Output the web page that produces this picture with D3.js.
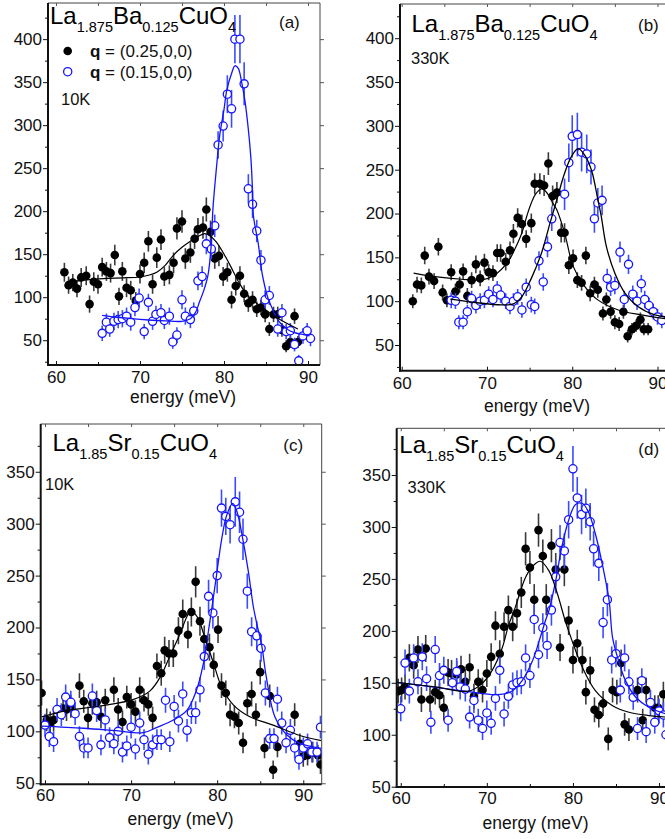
<!DOCTYPE html>
<html><head><meta charset="utf-8">
<script src="https://cdn.jsdelivr.net/npm/d3@7"></script>
<style>
body{margin:0;background:#fff}
svg{display:block}
text{font-family:"Liberation Sans",Arial,Helvetica,sans-serif}
</style>
</head><body>
<svg id="chart" width="665" height="839"></svg>
<script>
// ---------------- data (energy meV, intensity, error) ----------------
const xTicks = [60, 70, 80, 90];
const xMinor = [65, 75, 85];
const yTicksAB = [50, 100, 150, 200, 250, 300, 350, 400];
const yMinorAB = [25, 75, 125, 175, 225, 275, 325, 375, 425];
const yTicksCD = [50, 100, 150, 200, 250, 300, 350];
const yMinorCD = [75, 125, 175, 225, 275, 325, 375];
const legendLabels = ["(0.25,0,0)", "(0.15,0,0)"];

const aBlack = [[61.0,129,11],[61.5,114,10],[62.0,117,10],[62.5,110,10],[63.0,123,11],[63.6,125,11],[64.0,92,10],[64.5,118,11],[65.0,115,11],[65.5,135,11],[66.0,130,11],[66.5,128,11],[67.0,149,12],[67.5,101,10],[67.9,130,11],[68.4,111,11],[68.9,108,11],[69.5,96,10],[70.0,127,11],[70.5,140,12],[71.0,165,12],[71.5,115,11],[72.0,146,12],[72.5,167,12],[72.9,124,11],[73.5,126,11],[74.0,140,12],[74.4,180,13],[75.0,188,13],[75.4,145,12],[76.0,152,12],[76.5,168,12],[76.9,179,13],[77.5,181,13],[77.9,202,14],[78.4,176,13],[78.9,145,12],[79.4,148,12],[79.9,124,11],[80.4,129,11],[80.9,97,10],[81.4,113,11],[81.9,125,11],[82.4,104,10],[82.9,93,10],[83.4,97,10],[83.9,86,9],[84.4,88,9],[84.9,80,9],[85.4,63,8],[85.9,80,9],[86.4,80,9],[86.9,62,8],[87.4,43,7],[87.9,48,7],[88.4,78,9],[88.8,48,7]];
const aBlue = [[65.5,58,9],[66.0,71,10],[66.4,63,9],[66.9,72,10],[67.4,74,10],[67.9,75,10],[68.4,78,10],[68.9,71,10],[69.4,88,10],[69.9,99,11],[70.5,60,9],[71.0,94,10],[71.5,72,10],[71.9,80,10],[72.5,82,10],[72.9,73,10],[73.5,78,10],[73.9,48,8],[74.4,56,9],[75.0,97,11],[75.4,78,10],[76.0,74,10],[76.4,84,10],[76.9,119,11],[77.4,124,12],[77.9,162,12],[78.5,156,12],[78.9,183,13],[79.3,277,16],[79.9,299,18],[80.4,336,22],[80.9,319,22],[81.3,400,28],[81.9,400,28],[82.4,348,25],[82.9,226,17],[83.4,208,16],[83.9,177,13],[84.4,143,12],[84.9,97,11],[85.4,102,11],[86.4,63,9],[86.9,82,10],[87.4,60,9],[87.9,61,9],[88.4,45,8],[88.9,26,7],[89.4,55,9],[89.9,61,9],[90.3,52,9]];
const aBlackFit = [[62,118.5],[64,120.5],[66,122],[68,122.5],[70,123.5],[71,125.5],[72,129],[73,137],[74,149],[75,158],[76,165],[77,171],[77.7,174],[78.4,171],[79.1,164],[80.3,145],[81.1,130],[81.9,115],[82.9,101],[84.3,90],[86.3,76],[88.8,63]];
const aBlueFit = [[65.5,79],[67,77],[69,75],[71,73.5],[73,72.5],[75,72],[76,75],[76.6,82],[77.1,95],[77.6,108],[78.1,126],[78.45,157],[78.7,205],[79.1,250],[79.5,289],[80.0,318],[80.3,339],[80.9,360],[81.3,369],[81.7,366],[82.1,350],[82.5,328],[82.9,295],[83.2,262],[83.37,230],[83.5,195],[84.1,161],[84.5,130],[84.9,111],[85.3,97],[85.7,88],[86.2,77],[86.7,70],[87.5,63],[88.3,59],[89.2,57],[90.2,55]];

const bBlack = [[61.3,100,8],[61.8,119,9],[62.3,118,9],[62.7,152,10],[63.2,128,9],[63.8,123,9],[64.3,162,10],[64.8,110,9],[65.3,101,8],[65.8,133,9],[66.3,111,9],[66.8,119,9],[67.2,134,9],[67.7,106,9],[68.2,124,9],[68.7,142,10],[69.2,126,9],[69.7,144,10],[70.2,133,9],[70.7,132,9],[71.2,155,10],[71.6,155,10],[72.2,145,10],[72.7,158,10],[73.1,177,11],[73.6,195,11],[74.1,188,11],[74.6,171,10],[75.2,189,11],[75.6,234,12],[76.2,234,12],[76.7,232,12],[77.2,257,13],[77.7,220,12],[78.2,224,12],[78.7,178,11],[79.1,178,11],[79.6,141,10],[80.1,149,10],[80.6,124,9],[81.1,121,9],[81.6,152,10],[82.1,109,9],[82.6,119,9],[83.0,113,9],[83.6,86,8],[84.0,102,8],[84.5,88,8],[85.0,76,8],[85.5,74,8],[86.0,88,8],[86.5,60,7],[87.0,68,7],[87.5,72,7],[88.0,79,8],[88.4,68,7],[88.9,68,7]];
const bBlue = [[65.8,101,9],[66.3,100,9],[66.7,76,8],[67.2,76,8],[67.7,88,8],[68.2,103,9],[68.7,95,9],[69.2,100,9],[69.7,101,9],[70.2,108,9],[70.7,102,9],[71.2,114,9],[71.6,107,9],[72.2,100,9],[72.7,94,9],[73.1,100,9],[73.6,105,9],[74.1,90,9],[74.6,116,10],[75.2,96,9],[75.6,94,9],[76.1,146,11],[76.6,122,10],[77.1,162,12],[77.6,194,14],[79.1,222,18],[79.6,258,22],[80.0,288,24],[80.6,290,25],[81.1,270,22],[81.7,268,22],[82.2,253,20],[82.6,194,16],[83.0,212,17],[83.5,215,17],[84.1,126,11],[84.5,116,10],[85.0,118,10],[85.6,156,12],[86.1,102,10],[86.6,142,11],[87.1,108,10],[87.6,100,10],[88.1,120,10],[88.5,102,10],[89.0,95,9],[89.5,88,9],[90.0,82,9],[90.5,78,9]];
const bBlackFit = [[61.4,132],[63.9,128],[67,125],[69.4,124.4],[70.9,130],[72.5,145.4],[73.3,160],[74.1,178],[74.7,198],[75.2,212],[75.7,222],[76.4,228],[77.0,224],[77.6,214],[78.2,204],[79.1,178],[80.1,140],[81.3,119],[83.0,101.5],[85.4,90],[88.1,84.4],[90.9,80]];
const bBlueFit = [[65.7,102.3],[68.6,98.5],[71.7,95.8],[73.1,97],[74.1,105.3],[75.2,126],[76.4,155],[77.4,189.3],[78.2,216],[79.1,246],[79.9,265],[80.7,274],[81.5,266],[82.3,248],[83.0,216],[83.4,197],[84.0,162.6],[85.0,132],[86.2,109],[87.7,94],[89.7,84.4],[90.9,82.4]];

const cBlack = [[59.6,137,12],[60.2,111,11],[60.6,108,11],[61.0,111,11],[62.1,122,11],[62.5,121,11],[63.0,124,11],[64.0,144,12],[64.5,129,11],[65.0,113,11],[65.5,127,11],[66.0,128,11],[66.5,114,11],[67.0,130,11],[68.0,140,12],[68.5,121,11],[69.0,109,11],[69.5,133,11],[70.0,126,11],[70.5,119,11],[71.0,140,12],[71.5,130,11],[72.0,126,11],[72.5,113,11],[73.0,163,12],[73.5,156,12],[73.9,178,13],[74.4,175,13],[74.9,175,13],[75.5,197,13],[76.0,213,14],[76.6,193,13],[77.0,215,14],[77.5,244,15],[78.0,206,14],[78.5,189,13],[79.1,181,13],[79.6,164,12],[80.1,198,13],[80.5,144,12],[81.0,137,12],[81.5,116,11],[82.0,114,11],[82.5,108,11],[83.0,89,10],[83.5,127,11],[84.0,136,12],[84.5,116,11],[85.0,157,12],[85.5,84,10],[86.1,134,11],[86.5,63,9],[87.0,85,10],[89.0,116,11],[89.6,88,10],[90.0,76,10],[90.5,77,10],[91.1,80,10],[91.7,77,10],[92.0,68,9]];
const cBlue = [[60.0,106,11],[60.5,95,10],[61.0,90,10],[61.4,121,11],[61.9,116,11],[62.4,133,12],[63.0,128,11],[63.5,117,11],[64.0,95,10],[64.5,84,10],[65.0,84,10],[65.5,134,12],[66.0,120,11],[66.5,87,10],[67.0,111,11],[67.5,94,10],[68.0,88,10],[68.5,100,10],[69.0,80,10],[69.5,86,10],[70.0,104,11],[70.5,83,10],[71.0,108,11],[71.5,92,10],[72.0,78,10],[72.5,87,10],[73.0,92,10],[73.5,92,10],[74.0,130,12],[74.5,90,10],[75.0,124,11],[75.5,110,11],[76.0,136,12],[76.5,101,11],[77.0,118,11],[77.5,118,11],[78.0,140,12],[78.5,172,13],[79.0,230,16],[79.5,214,15],[80.0,250,17],[80.5,315,18],[81.0,307,18],[81.5,299,18],[82.1,321,24],[82.6,311,20],[83.0,285,20],[83.5,235,17],[84.0,196,14],[84.6,192,14],[85.1,180,13],[85.6,137,12],[86.1,93,10],[86.6,93,10],[87.0,131,12],[87.5,108,11],[88.0,89,10],[88.5,101,11],[89.0,84,10],[89.5,73,10],[90.0,84,10],[90.5,88,10],[91.0,80,10],[91.6,80,10],[92.0,104,11]];
const cBlackFit = [[59.6,114],[62.5,120],[66.4,124.4],[70.3,130.8],[72.2,139],[73.4,152.6],[74.5,172.4],[75.7,194.2],[76.4,209],[76.9,216],[77.7,210],[78.5,192],[79.6,165],[80.5,143],[81.9,125.3],[83.8,114],[86.5,106],[89.6,96],[92.1,91]];
const cBlueFit = [[59.6,105],[64.5,103],[68.3,100.6],[71.4,98.7],[73.0,103.8],[74.9,110.9],[76.5,120.5],[77.6,139.7],[78.4,165.4],[79.0,197.4],[79.4,220],[79.9,249],[80.5,284],[81.1,308],[81.8,319.6],[82.3,311.5],[83.0,284],[83.6,255],[84.2,220],[84.6,203.8],[85.2,181.4],[85.7,152.6],[86.7,114],[88.1,96.5],[89.6,88.5],[92.1,83.7]];

const dBlack = [[59.7,142,12],[60.1,143,12],[60.5,146,12],[61.0,174,13],[61.5,167,13],[62.0,182,13],[62.4,134,12],[62.9,183,13],[63.4,134,12],[64.0,141,12],[64.5,138,12],[65.0,126,12],[65.5,160,13],[65.9,159,13],[66.5,158,13],[67.0,163,13],[67.5,151,12],[68.0,165,13],[68.5,137,12],[69.0,151,12],[69.5,143,12],[70.0,159,13],[70.5,175,13],[71.0,205,14],[71.5,178,13],[72.0,204,14],[72.5,220,14],[73.0,204,14],[73.5,217,14],[74.0,237,15],[74.5,279,16],[75.0,261,16],[75.5,230,15],[76.0,297,16],[76.5,272,16],[76.9,230,15],[77.5,282,16],[78.0,259,16],[78.5,184,13],[79.0,259,16],[79.5,210,14],[80.0,172,13],[80.5,188,13],[81.1,172,13],[81.5,141,12],[82.0,162,13],[82.5,124,12],[83.0,119,12],[83.5,130,12],[84.1,96,11],[84.6,143,12],[85.1,141,12],[85.6,169,13],[86.0,110,11],[86.5,105,11],[87.5,143,12],[88.1,114,11],[88.5,143,12],[89.5,126,12],[89.9,126,12],[90.5,139,12]];
const dBlue = [[60.0,125,12],[60.5,169,13],[61.0,142,12],[61.5,174,13],[62.0,151,12],[62.5,175,13],[63.0,154,12],[63.5,112,11],[64.0,182,13],[64.5,157,12],[65.0,162,13],[65.5,114,11],[66.0,150,12],[66.5,161,13],[66.9,146,12],[67.5,144,12],[68.0,117,11],[68.5,133,12],[69.0,114,11],[69.5,106,11],[70.0,121,12],[70.5,111,11],[71.0,135,12],[71.5,162,13],[72.0,120,12],[72.5,137,12],[73.0,148,12],[73.5,150,12],[74.0,151,12],[74.5,174,13],[75.0,157,12],[75.5,211,14],[76.0,177,13],[76.5,203,14],[77.0,186,13],[77.5,220,15],[78.0,252,16],[78.5,285,17],[79.0,277,17],[79.5,307,18],[80.0,356,22],[80.5,328,20],[81.0,312,19],[81.5,318,19],[82.0,305,18],[82.4,279,17],[83.0,265,17],[83.5,208,15],[84.0,230,16],[84.5,172,13],[85.0,178,13],[85.5,143,12],[86.0,174,13],[86.5,151,12],[87.0,136,12],[87.5,106,11],[88.0,152,12],[88.5,103,11],[89.0,131,12],[89.5,112,11],[90.0,123,12],[90.5,119,12],[90.8,100,11]];
const dBlackFit = [[59.5,150.5],[64,146],[67.9,142],[69.4,149],[70.6,161.7],[71.8,184],[72.5,204.8],[73.3,222.6],[74.5,251.6],[75.4,262.9],[76.2,267],[77.2,258],[78.2,235.5],[79.1,209.7],[79.9,190.4],[81.1,164.8],[82.6,142.5],[84.6,128],[86.5,121.7],[88.8,118.5],[90.8,117]];
const dBlueFit = [[59.5,150.5],[64.0,145.7],[67.9,141.5],[71.0,138.7],[72.7,140.9],[74.1,152.1],[75.3,171.2],[76.2,193.6],[76.8,209.7],[77.2,219.4],[78.0,248.4],[78.7,280.6],[79.5,306.5],[80.3,321.6],[81.1,322.6],[81.8,314.5],[82.6,293.5],[83.4,264.5],[84.2,229],[84.6,193.6],[85.3,171.2],[86.1,152.1],[87.3,136.1],[88.8,126.5],[90.8,120.1]];

// ---------------- layout ----------------
const BLUE = "#1414ff", BLUE_BAR = "#3a4cff", BLACK = "#000", BAR = "#3a3a3a";
const FONT = '"Liberation Sans",Arial,Helvetica,sans-serif';

const panels = [
  {x0:48, y0:3, x1:320, y1:365, xd:[59.05,91.43], yd:[21.2,442], yT:yTicksAB, yM:yMinorAB,
   black:aBlack, blue:aBlue, bFit:aBlackFit, uFit:aBlueFit, uFitColor:BLUE,
   title:["La","1.875","Ba","0.125","CuO","4"], tx:50, ty:23.5, lab:"(a)", lx:279, ly:27.5,
   temp:"10K", tpx:61, tpy:105, legend:true, xl:[183,402.5], xPad:6},
  {x0:400, y0:4, x1:672, y1:370.7, xd:[59.8,91.7], yd:[20.7,439], yT:yTicksAB, yM:yMinorAB,
   black:bBlack, blue:bBlue, bFit:bBlackFit, uFit:bBlueFit, uFitColor:BLACK,
   title:["La","1.875","Ba","0.125","CuO","4"], tx:411.5, ty:31.5, lab:"(b)", lx:638, ly:31.3,
   temp:"330K", tpx:411, tpy:63.5, legend:false, xl:[537,411.5], xPad:6},
  {x0:40.7, y0:424, x1:321.7, y1:784.3, xd:[59.5,92.14], yd:[49,396], yT:yTicksCD, yM:yMinorCD,
   black:cBlack, blue:cBlue, bFit:cBlackFit, uFit:cBlueFit, uFitColor:BLUE,
   title:["La","1.85","Sr","0.15","CuO","4"], tx:52.5, ty:451, lab:"(c)", lx:283.3, ly:451.3,
   temp:"10K", tpx:45, tpy:490, legend:false, xl:[180.5,825], xPad:5},
  {x0:396.7, y0:428.3, x1:678, y1:787, xd:[59.53,92.2], yd:[49.7,395], yT:yTicksCD, yM:yMinorCD,
   black:dBlack, blue:dBlue, bFit:dBlackFit, uFit:dBlueFit, uFitColor:BLUE,
   title:["La","1.85","Sr","0.15","CuO","4"], tx:399.3, ty:452.5, lab:"(d)", lx:638.3, ly:454.7,
   temp:"330K", tpx:407.5, tpy:492.7, legend:false, xl:[535.5,828.5], xPad:4.5}
];

const svg = d3.select("#chart");
const defs = svg.append("defs");

panels.forEach((p, i) => {
  const x = d3.scaleLinear().domain(p.xd).range([p.x0, p.x1]);
  const y = d3.scaleLinear().domain(p.yd).range([p.y1, p.y0]);
  const g = svg.append("g");

  defs.append("clipPath").attr("id", "clip" + i)
    .append("rect").attr("x", p.x0).attr("y", p.y0)
    .attr("width", p.x1 - p.x0).attr("height", p.y1 - p.y0);

  const data = g.append("g").attr("clip-path", `url(#clip${i})`);

  // black series
  data.selectAll(".eb").data(p.black).join("line")
    .attr("x1", d => x(d[0])).attr("x2", d => x(d[0]))
    .attr("y1", d => y(d[1] - d[2])).attr("y2", d => y(d[1] + d[2]))
    .attr("stroke", BAR).attr("stroke-width", 1.6);
  data.selectAll(".pb").data(p.black).join("circle")
    .attr("cx", d => x(d[0])).attr("cy", d => y(d[1])).attr("r", 4.3)
    .attr("fill", BLACK);

  // blue series
  const blueG = data.append("g");
  blueG.selectAll("line").data(p.blue).join("line")
    .attr("x1", d => x(d[0])).attr("x2", d => x(d[0]))
    .attr("y1", d => y(d[1] - d[2])).attr("y2", d => y(d[1] + d[2]))
    .attr("stroke", BLUE_BAR).attr("stroke-width", 1.6);
  blueG.selectAll("circle").data(p.blue).join("circle")
    .attr("cx", d => x(d[0])).attr("cy", d => y(d[1])).attr("r", 4.1)
    .attr("fill", "#fff").attr("stroke", BLUE).attr("stroke-width", 1.3);

  // fits
  const line = d3.line().x(d => x(d[0])).y(d => y(d[1])).curve(d3.curveCatmullRom.alpha(0.5));
  data.append("path").attr("d", line(p.uFit)).attr("fill", "none")
    .attr("stroke", p.uFitColor).attr("stroke-width", 1.3);
  data.append("path").attr("d", line(p.bFit)).attr("fill", "none")
    .attr("stroke", BLACK).attr("stroke-width", 1.2);

  // frame
  g.append("line").attr("x1", p.x0).attr("x2", p.x1).attr("y1", p.y0).attr("y2", p.y0)
    .attr("stroke", "#444").attr("stroke-width", 1);
  g.append("line").attr("x1", p.x1).attr("x2", p.x1).attr("y1", p.y0).attr("y2", p.y1)
    .attr("stroke", "#444").attr("stroke-width", 1);

  const style = sel => sel.attr("font-size", 17).attr("font-family", FONT)
    .call(s => s.select(".domain").remove())
    .call(s => s.selectAll(".tick line").attr("stroke", "#111").attr("stroke-width", 1));

  // left axis (outward ticks)
  g.append("g").attr("transform", `translate(${p.x0},0)`)
    .call(d3.axisLeft(y).tickValues(p.yT).tickSize(5).tickPadding(1).tickFormat(d3.format("d")))
    .call(style).call(s => s.selectAll("text").attr("fill", "#111"));
  g.append("g").attr("transform", `translate(${p.x0},0)`)
    .call(d3.axisLeft(y).tickValues(p.yM.filter(v => v > p.yd[0] && v < p.yd[1])).tickSize(3).tickFormat(""))
    .call(style);
  // right (outward ticks)
  g.append("g").attr("transform", `translate(${p.x1},0)`)
    .call(d3.axisRight(y).tickValues(p.yT).tickSize(4).tickFormat(""))
    .call(style).call(s => s.selectAll(".tick line").attr("stroke", "#555"));
  // bottom axis (inward ticks)
  g.append("g").attr("transform", `translate(0,${p.y1})`)
    .call(d3.axisBottom(x).tickValues(xTicks).tickSizeInner(-4).tickSizeOuter(0).tickPadding(p.xPad).tickFormat(d3.format("d")))
    .call(style).call(s => s.selectAll("text").attr("fill", "#111"));
  g.append("g").attr("transform", `translate(0,${p.y1})`)
    .call(d3.axisBottom(x).tickValues(xMinor).tickSizeInner(-3).tickSizeOuter(0).tickFormat(""))
    .call(style);
  // top (inward ticks)
  g.append("g").attr("transform", `translate(0,${p.y0})`)
    .call(d3.axisTop(x).tickValues(xTicks.concat(xMinor)).tickSizeInner(-3).tickSizeOuter(0).tickFormat(""))
    .call(style).call(s => s.selectAll(".tick line").attr("stroke", "#555"));

  // thick left/bottom axis lines
  g.append("line").attr("x1", p.x0).attr("x2", p.x0).attr("y1", p.y0).attr("y2", p.y1 + 1)
    .attr("stroke", "#111").attr("stroke-width", 2);
  g.append("line").attr("x1", p.x0 - 1).attr("x2", p.x1).attr("y1", p.y1).attr("y2", p.y1)
    .attr("stroke", "#111").attr("stroke-width", 2);

  // axis title
  g.append("text").attr("x", p.xl[0]).attr("y", p.xl[1]).attr("text-anchor", "middle")
    .attr("font-size", 17.5).attr("fill", "#111").text("energy (meV)");

  // compound title with subscripts
  const t = g.append("text").attr("x", p.tx).attr("y", p.ty).attr("fill", "#000");
  p.title.forEach((s, k) => {
    const sub = k % 2 === 1;
    t.append("tspan").attr("font-size", sub ? 14.5 : 24)
      .attr("dy", k === 0 ? 0 : (sub ? 8 : -8)).text(s);
  });

  g.append("text").attr("x", p.lx).attr("y", p.ly).attr("font-size", 17).attr("fill", "#111").text(p.lab);
  g.append("text").attr("x", p.tpx).attr("y", p.tpy).attr("font-size", 16.5).attr("fill", "#111").text(p.temp);

  if (p.legend) {
    const lg = g.append("g");
    lg.append("circle").attr("cx", 67.7).attr("cy", 51).attr("r", 4.3).attr("fill", BLACK);
    lg.append("circle").attr("cx", 67.7).attr("cy", 71.7).attr("r", 4.1)
      .attr("fill", "#fff").attr("stroke", BLUE).attr("stroke-width", 1.3);
    [57, 78].forEach((by, k) => {
      const lt = lg.append("text").attr("x", 90).attr("y", by).attr("font-size", 17).attr("fill", "#111");
      lt.append("tspan").attr("font-weight", "bold").text("q");
      lt.append("tspan").text(" = " + legendLabels[k]);
    });
  }
});
</script>
</body></html>
